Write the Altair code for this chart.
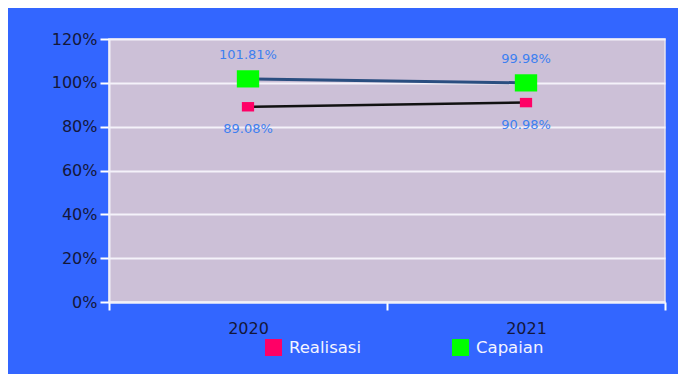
import altair as alt
import pandas as pd

years = ["2020", "2021"]
series_names = ["Realisasi", "Capaian"]
realisasi = [89.08, 90.98]
capaian = [101.81, 99.98]
y_ticks = [0, 20, 40, 60, 80, 100, 120]

rows = []
for s, vals in zip(series_names, [realisasi, capaian]):
    for yr, v in zip(years, vals):
        rows.append({"year": yr, "series": s, "value": v,
                     "label": f"{v:.2f}%"})
df = pd.DataFrame(rows)

FONT = "DejaVu Sans"
x_enc = alt.X("year:N", bandPosition=0.5,
              scale=alt.Scale(type="band", paddingInner=0, paddingOuter=0, domain=years),
              axis=alt.Axis(title=None, labelAngle=0, tickBand="extent", tickColor="#FFFFFF",
                            tickSize=8, tickWidth=2, domainColor="#F2F0F8", domainWidth=2,
                            labelFont=FONT, labelFontSize=16, labelColor="#14173A",
                            labelPadding=10, grid=False))
y_enc = alt.Y("value:Q",
              scale=alt.Scale(domain=[0, 120], nice=False, zero=True),
              axis=alt.Axis(title=None, values=y_ticks, labelExpr="datum.value + '%'",
                            tickColor="#FFFFFF", tickSize=9, tickWidth=2,
                            domainColor="#F2F0F8", domainWidth=2,
                            labelFont=FONT, labelFontSize=16, labelColor="#14173A",
                            labelPadding=3, grid=True, gridColor="#F4F2FA", gridWidth=2))

fill_enc = alt.Fill("series:N", sort=series_names,
                    scale=alt.Scale(domain=series_names, range=["#FF0066", "#00FF00"]),
                    legend=alt.Legend(title=None, orient="none", direction="horizontal",
                                      legendX=156, legendY=300, columnPadding=90,
                                      symbolType="square", symbolSize=289,
                                      symbolStrokeWidth=0, symbolOpacity=1,
                                      labelFont=FONT, labelFontSize=16.5,
                                      labelColor="#F4F4FF", labelOffset=7))

base = alt.Chart(df)
only_r = alt.datum.series == "Realisasi"
only_c = alt.datum.series == "Capaian"

line_r = base.transform_filter(only_r).mark_line(strokeWidth=2.5, color="#111111").encode(
    x=x_enc, y=y_enc)
line_c = base.transform_filter(only_c).mark_line(strokeWidth=3, color="#2A4E80").encode(
    x=x_enc, y=y_enc)

rect_shape = "M-1,-0.77 L1,-0.77 L1,0.77 L-1,0.77 Z"
pts_r = base.transform_filter(only_r).mark_point(
    filled=True, opacity=1, shape=rect_shape, size=150).encode(x=x_enc, y=y_enc, fill=fill_enc)
pts_c = base.transform_filter(only_c).mark_point(
    filled=True, opacity=1, shape=rect_shape, size=500).encode(x=x_enc, y=y_enc, fill=fill_enc)

lab_top = base.transform_filter(only_c).mark_text(
    font=FONT, fontSize=13, color="#3C7FF0", dy=-24
).encode(x=x_enc, y=y_enc, text="label:N")
lab_bot = base.transform_filter(only_r).mark_text(
    font=FONT, fontSize=13, color="#3C7FF0", dy=22
).encode(x=x_enc, y=y_enc, text="label:N")

chart = alt.layer(line_r, line_c, pts_r, pts_c, lab_top, lab_bot).properties(
    width=556, height=263,
    background="#3366FF",
    padding={"left": 101, "top": 31, "right": 13, "bottom": 72},
    autosize=alt.AutoSizeParams(type="none"),
).configure_view(fill="#CCC0D7", stroke="#E8E4F0", strokeWidth=1.5)

chart.save("out.html", embed_options={"renderer": "svg", "actions": False})
